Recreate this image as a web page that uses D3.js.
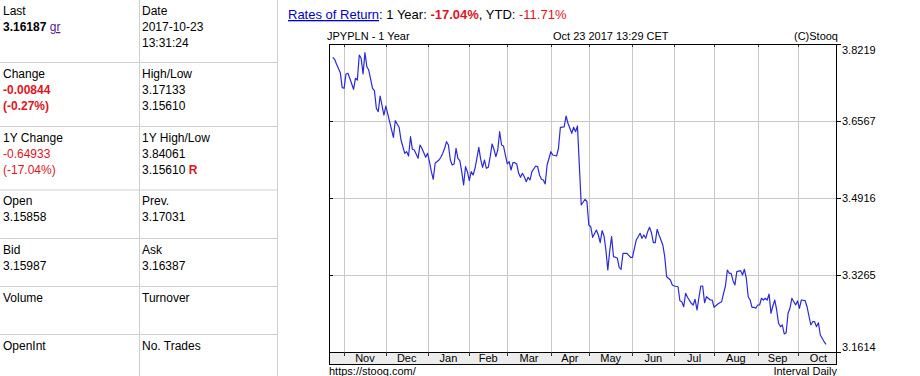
<!DOCTYPE html>
<html lang="en">
<head>
    <meta charset="UTF-8">
    <title>JPYPLN - 1 Year</title>
    <script src="https://d3js.org/d3.v7.min.js"></script>
    <style>
        body { margin: 0; background: #fff; }
        svg { display: block; font-family: "Liberation Sans", Arial, sans-serif; }
    </style>
</head>
<body>

    <svg id="quote" width="920" height="376"></svg>

    <script>
        // quote table (left side)
        const leftLabels = ["Last", "Change", "1Y Change", "Open", "Bid", "Volume", "OpenInt"];
        const rightLabels = ["Date", "High/Low", "1Y High/Low", "Prev.", "Ask", "Turnover", "No. Trades"];
        // each line is a list of [text, style] pieces
        const leftValues = [
            [[["3.16187", "bold"], [" ", ""], ["gr", "link"]]],
            [[["-0.00844", "redBold"]], [["(-0.27%)", "redBold"]]],
            [[["-0.64933", "red"]], [["(-17.04%)", "red"]]],
            [[["3.15858", ""]]],
            [[["3.15987", ""]]],
            [],
            []
        ];
        const rightValues = [
            [[["2017-10-23", ""]], [["13:31:24", ""]]],
            [[["3.17133", ""]], [["3.15610", ""]]],
            [[["3.84061", ""]], [["3.15610 ", ""], ["R", "redBold"]]],
            [[["3.17031", ""]]],
            [[["3.16387", ""]]],
            [],
            []
        ];
        const header = [["Rates of Return", "link2"], [": 1 Year: ", ""], ["-17.04%", "redBold"],
                        [", YTD: ", ""], ["-11.71%", "red"]];

        // chart data: trading day number (0 = 2016-10-24) and daily close
        const tradeDay = [0, 1, 2, 4, 5, 6, 7, 8, 9, 11, 12, 13, 14, 15, 16, 17, 18, 19, 21, 22,
            23, 24, 25, 27, 28, 30, 32, 33, 35, 36, 38, 39, 40, 41, 42, 43, 45, 46, 47, 49,
            50, 51, 52, 53, 54, 56, 57, 58, 59, 60, 61, 62, 63, 64, 65, 66, 67, 68, 69, 70,
            71, 72, 73, 74, 75, 76, 77, 78, 79, 80, 81, 82, 83, 84, 85, 86, 87, 88, 89, 90,
            92, 93, 94, 95, 96, 97, 98, 99, 100, 101, 102, 103, 104, 105, 107, 108, 109, 110, 111, 112,
            113, 115, 116, 118, 119, 120, 122, 123, 124, 126, 127, 128, 129, 131, 133, 134, 135, 136, 137, 139,
            140, 141, 142, 143, 144, 145, 146, 147, 148, 150, 151, 152, 153, 155, 157, 158, 160, 161, 162, 163,
            164, 165, 166, 167, 168, 169, 170, 171, 172, 174, 175, 176, 178, 179, 180, 182, 183, 184, 185, 186,
            187, 189, 190, 191, 192, 194, 195, 196, 197, 199, 200, 201, 203, 204, 205, 206, 207, 208, 209, 210,
            211, 212, 213, 215, 216, 217, 218, 219, 220, 221, 222, 223, 224, 225, 226, 227, 228, 229, 230, 231,
            232, 233, 234, 235, 236, 237, 238, 239, 240, 241, 242, 244, 245, 246, 247, 249, 250, 252, 253, 254,
            255, 256, 257, 258, 259, 260];
        const close = [3.7934, 3.7891, 3.7790, 3.7604, 3.7282, 3.7269, 3.7576, 3.7591, 3.7483, 3.7248,
            3.7483, 3.7447, 3.7983, 3.7912, 3.7576, 3.8033, 3.7732, 3.7661, 3.7269, 3.7218,
            3.6840, 3.6767, 3.7104, 3.6696, 3.6889, 3.6553, 3.6218, 3.6574, 3.6433, 3.6160,
            3.5875, 3.5909, 3.5817, 3.6231, 3.5961, 3.5946, 3.5768, 3.6053, 3.5982, 3.5789,
            3.5875, 3.5695, 3.5481, 3.5318, 3.5661, 3.5731, 3.5789, 3.5875, 3.5982, 3.6124,
            3.6053, 3.5731, 3.5624, 3.5646, 3.5982, 3.5768, 3.5716, 3.5481, 3.5195, 3.5588,
            3.5481, 3.5288, 3.5481, 3.5410, 3.5553, 3.5768, 3.6004, 3.5746, 3.5575, 3.5731,
            3.5553, 3.5575, 3.5802, 3.6075, 3.5961, 3.5802, 3.5946, 3.6338, 3.6053, 3.6032,
            3.5646, 3.5695, 3.5517, 3.5674, 3.5674, 3.5646, 3.5446, 3.5360, 3.5446, 3.5373,
            3.5266, 3.5360, 3.5303, 3.5481, 3.5603, 3.5588, 3.5410, 3.5318, 3.5303, 3.5217,
            3.5624, 3.5909, 3.5839, 3.5817, 3.5982, 3.6433, 3.6440, 3.6675, 3.6519, 3.6304,
            3.6433, 3.6338, 3.6461, 3.4766, 3.4889, 3.4837, 3.4338, 3.4301, 3.4074, 3.4230,
            3.4123, 3.3958, 3.4215, 3.4102, 3.3801, 3.3372, 3.3780, 3.4087, 3.3658, 3.3630,
            3.3430, 3.3388, 3.3731, 3.3731, 3.3645, 3.3645, 3.4016, 3.4087, 3.4160, 3.4052,
            3.4123, 3.4052, 3.4194, 3.4288, 3.4172, 3.3958, 3.3958, 3.4245, 3.4123, 3.3909,
            3.3658, 3.3229, 3.3158, 3.3051, 3.3029, 3.3014, 3.2714, 3.2693, 3.2585, 3.2873,
            3.2787, 3.2658, 3.2622, 3.2744, 3.2515, 3.3029, 3.3029, 3.2671, 3.2800, 3.2729,
            3.2729, 3.2573, 3.2643, 3.2671, 3.2693, 3.2873, 3.3029, 3.3372, 3.3302, 3.3302,
            3.3143, 3.3051, 3.3336, 3.3358, 3.3265, 3.3388, 3.3195, 3.2800, 3.2729, 3.2573,
            3.2573, 3.2551, 3.2622, 3.2622, 3.2766, 3.2729, 3.2766, 3.2729, 3.2858, 3.2444,
            3.2600, 3.2729, 3.2515, 3.2229, 3.2157, 3.2193, 3.2000, 3.2028, 3.2444, 3.2551,
            3.2766, 3.2622, 3.2708, 3.2551, 3.2729, 3.2714, 3.2585, 3.2193, 3.2264, 3.2264,
            3.2157, 3.2242, 3.1979, 3.1908, 3.1835, 3.1779];

        // month axis: first trading day of each month
        const monthNames = ["Nov", "Dec", "Jan", "Feb", "Mar", "Apr", "May", "Jun", "Jul", "Aug", "Sep", "Oct"];
        const monthStart = [6, 28, 50, 72, 92, 115, 135, 158, 180, 201, 224, 245, 267];
        const yTicks = [3.1614, 3.3265, 3.4916, 3.6567, 3.8219];

        const styles = {
            "": { fill: "#000", weight: "normal", deco: "none" },
            bold: { fill: "#000", weight: "bold", deco: "none" },
            red: { fill: "#e0141e", weight: "normal", deco: "none" },
            redBold: { fill: "#e0141e", weight: "bold", deco: "none" },
            link: { fill: "#551a8b", weight: "normal", deco: "underline" },
            link2: { fill: "#0000cc", weight: "normal", deco: "underline" }
        };

        const svg = d3.select("#quote");

        // ---- left table ----
        const rowTop = [0, 62.5, 126.5, 190, 238.5, 286.5, 334.5];
        const table = svg.append("g").style("font-size", "12px");

        rowTop.slice(1).forEach(t => {
            table.append("line").attr("x1", 0).attr("x2", 277).attr("y1", t).attr("y2", t)
                .attr("stroke", "#cfcfcf");
        });
        [139.5, 277.5].forEach(xp => {
            table.append("line").attr("x1", xp).attr("x2", xp).attr("y1", 0).attr("y2", 376)
                .attr("stroke", "#cfcfcf");
        });

        function addLines(g, xPos, rTop, label, lines) {
            g.append("text").attr("x", xPos).attr("y", rTop + 15).text(label);
            lines.forEach((pieces, i) => {
                const t = g.append("text").attr("x", xPos).attr("y", rTop + 31 + i * 16)
                    .attr("xml:space", "preserve");
                pieces.forEach(([txt, st]) => {
                    const s = styles[st];
                    t.append("tspan").text(txt).attr("fill", s.fill)
                        .attr("font-weight", s.weight).attr("text-decoration", s.deco);
                });
            });
        }

        rowTop.forEach((rTop, i) => {
            addLines(table, 3, rTop, leftLabels[i], leftValues[i]);
            addLines(table, 142, rTop, rightLabels[i], rightValues[i]);
        });

        // ---- header line ----
        const head = svg.append("text").attr("x", 288).attr("y", 19)
            .attr("xml:space", "preserve").style("font-size", "13px");
        header.forEach(([txt, st]) => {
            const s = styles[st];
            head.append("tspan").text(txt).attr("fill", s.fill)
                .attr("font-weight", s.weight).attr("text-decoration", s.deco);
        });

        // ---- chart ----
        const plotLeft = 329, plotRight = 837, plotTop = 44, plotBottom = 352, bandBottom = 364;

        const x = d3.scaleLinear().domain([0, 260]).range([332.7, 826]);
        const y = d3.scaleLinear().domain([yTicks[0], yTicks[yTicks.length - 1]]).range([plotBottom, plotTop]);
        const px = v => Math.round(v) + 0.5;

        const chart = svg.append("g").style("font-size", "11px");
        const months = monthStart.slice(0, 12);

        // grid
        chart.selectAll(".vgrid").data(months).enter().append("line")
            .attr("x1", d => px(x(d))).attr("x2", d => px(x(d)))
            .attr("y1", plotTop).attr("y2", plotBottom).attr("stroke", "#c8c8c8");
        chart.selectAll(".hgrid").data(yTicks.slice(1, -1)).enter().append("line")
            .attr("x1", plotLeft).attr("x2", plotRight)
            .attr("y1", d => px(y(d))).attr("y2", d => px(y(d)))
            .attr("stroke", "#c8c8c8");

        // month band
        chart.append("rect").attr("x", plotLeft).attr("y", plotBottom)
            .attr("width", plotRight - plotLeft).attr("height", bandBottom - plotBottom).attr("fill", "#ececec");
        chart.append("line").attr("x1", plotLeft).attr("x2", plotRight)
            .attr("y1", plotBottom + 0.5).attr("y2", plotBottom + 0.5).attr("stroke", "#000");
        chart.selectAll(".mtick").data(months).enter().append("line")
            .attr("x1", d => px(x(d))).attr("x2", d => px(x(d)))
            .attr("y1", plotBottom).attr("y2", plotBottom + 4).attr("stroke", "#333");
        chart.selectAll(".ttick").data(months).enter().append("line")
            .attr("x1", d => px(x(d))).attr("x2", d => px(x(d)))
            .attr("y1", plotTop).attr("y2", plotTop + 3).attr("stroke", "#333");
        chart.selectAll(".mlabel").data(monthNames).enter().append("text")
            .attr("x", (d, i) => (x(monthStart[i]) + x(monthStart[i + 1])) / 2)
            .attr("y", bandBottom - 2).attr("text-anchor", "middle").attr("fill", "#000")
            .text(d => d);

        // frame
        chart.append("rect").attr("x", plotLeft + 0.5).attr("y", plotTop + 0.5)
            .attr("width", plotRight - plotLeft - 1).attr("height", bandBottom - plotTop)
            .attr("fill", "none").attr("stroke", "#000");

        // y ticks and labels on the right
        chart.selectAll(".ytick").data(yTicks).enter().append("line")
            .attr("x1", plotRight).attr("x2", plotRight + 4)
            .attr("y1", d => px(y(d))).attr("y2", d => px(y(d)))
            .attr("stroke", "#000");
        chart.selectAll(".ltick").data(yTicks).enter().append("line")
            .attr("x1", plotLeft).attr("x2", plotLeft + 4)
            .attr("y1", d => px(y(d))).attr("y2", d => px(y(d)))
            .attr("stroke", "#000");
        chart.selectAll(".ylabel").data(yTicks).enter().append("text")
            .attr("x", plotRight + 5)
            .attr("y", (d, i) => y(d) + 4 + (i === yTicks.length - 1 ? 6 : i === 0 ? -5.5 : 0))
            .attr("fill", "#000")
            .text(d => d.toFixed(4));

        // price line
        const points = tradeDay.map((d, i) => ({ day: d, close: close[i] }));
        const line = d3.line().x(d => x(d.day)).y(d => y(d.close));
        chart.append("path").datum(points).attr("d", line)
            .attr("fill", "none").attr("stroke", "#2a2ad8").attr("stroke-width", 1.2)
            .attr("stroke-linejoin", "round");

        // titles
        chart.append("text").attr("x", 327).attr("y", 40).text("JPYPLN - 1 Year");
        chart.append("text").attr("x", 553).attr("y", 40).text("Oct 23 2017 13:29 CET");
        chart.append("text").attr("x", 838).attr("y", 40).attr("text-anchor", "end").text("(C)Stooq");
        chart.append("text").attr("x", 329).attr("y", 375).text("https://stooq.com/");
        chart.append("text").attr("x", 837).attr("y", 375).attr("text-anchor", "end").text("Interval Daily");
    </script>

</body>
</html>
